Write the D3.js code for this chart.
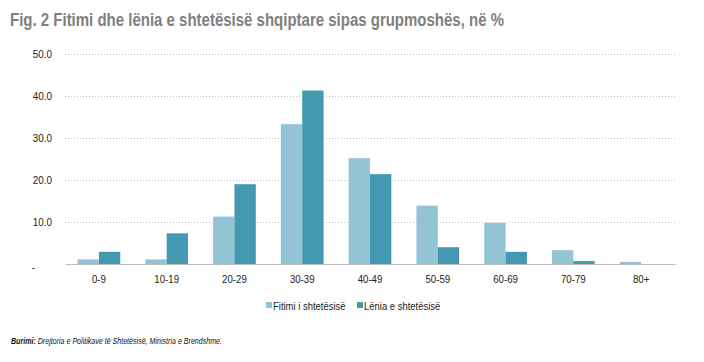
<!DOCTYPE html>
<html>
  <head>
    <meta charset="utf-8">
    <script src="https://cdn.jsdelivr.net/npm/d3@7"></script>
    <style>
      body { margin: 0; background: #ffffff; }
      text { font-family: "Liberation Sans", Arial, sans-serif; }
    </style>
  </head>
  <body>
    <svg width="704" height="362" id="mainsvg"></svg>
    <script>
        // data
        const groups = ["0-9", "10-19", "20-29", "30-39", "40-49", "50-59", "60-69", "70-79", "80+"];
        const fitimi = [1.1, 1.1, 11.3, 33.3, 25.2, 13.9, 9.8, 3.3, 0.5];
        const lenia = [2.9, 7.3, 19.0, 41.3, 21.4, 4.0, 2.9, 0.7, 0.0];
        const seriesNames = ["Fitimi i shtetësisë", "Lënia e shtetësisë"];
        const yTicks = [0, 10, 20, 30, 40, 50];
        const colors = ["#93c4d5", "#4399b1"];

        const svg = d3.select('#mainsvg');
        const margin = {top: 54, right: 29, bottom: 98, left: 65};
        const innerWidth = 704 - margin.left - margin.right;
        const innerHeight = 362 - margin.top - margin.bottom;

        // the original uses a narrow font; squeeze the glyphs to fake it
        const narrow = function(sel, f){
            sel.each(function(){
                const len = this.getComputedTextLength();
                d3.select(this).attr('textLength', len * f).attr('lengthAdjust', 'spacingAndGlyphs');
            });
        };

        const xScale = d3.scaleBand()
        .domain(groups)
        .range([0, innerWidth])
        .paddingInner(0.37)
        .paddingOuter(0.185);

        const x1 = d3.scaleBand()
        .domain([0, 1])
        .range([0, xScale.bandwidth()]);

        const yScale = d3.scaleLinear()
        .domain([0, 50])
        .range([innerHeight, 0]);

        // title
        svg.append('text')
        .attr('x', 10)
        .attr('y', 26)
        .attr('fill', '#808080')
        .attr('font-size', 18)
        .attr('font-weight', 'bold')
        .text('Fig. 2 Fitimi dhe lënia e shtetësisë shqiptare sipas grupmoshës, në %')
        .attr('textLength', 494)
        .attr('lengthAdjust', 'spacingAndGlyphs');

        const g = svg.append('g')
        .attr('transform', `translate(${margin.left}, ${margin.top})`);

        // gridlines + y labels
        const yAxis = d3.axisLeft(yScale)
        .tickValues(yTicks)
        .tickSize(-innerWidth)
        .tickPadding(13)
        .tickFormat(d => d === 0 ? '-' : d3.format('.1f')(d));
        const yAxisGroup = g.append('g').call(yAxis)
        .attr('font-family', null).attr('font-size', null);
        yAxisGroup.select('.domain').remove();
        yAxisGroup.selectAll('.tick line')
        .attr('stroke', '#bfbfbf')
        .attr('stroke-dasharray', '1,2')
        .filter(d => d === 0).remove();
        yAxisGroup.selectAll('.tick text')
        .attr('fill', '#222')
        .attr('text-anchor', 'end')
        .attr('font-size', 11.5)
        .call(narrow, 0.86);
        yAxisGroup.selectAll('.tick text').filter(d => d === 0)
        .attr('x', -30).attr('dy', '0.6em');

        // bars
        const table = groups.map((grp, i) => ({grp: grp, vals: [fitimi[i], lenia[i]]}));
        g.selectAll('.grp')
        .data(table)
        .enter().append('g')
        .attr('transform', d => `translate(${xScale(d.grp)}, 0)`)
        .selectAll('rect')
        .data(d => d.vals.map((v, k) => ({k: k, v: v})))
        .enter().append('rect')
        .attr('x', d => x1(d.k))
        .attr('width', x1.bandwidth())
        .attr('y', d => yScale(d.v))
        .attr('height', d => innerHeight - yScale(d.v))
        .attr('fill', d => colors[d.k]);

        // x axis
        const xAxis = d3.axisBottom(xScale).tickSize(0).tickPadding(11);
        const xAxisGroup = g.append('g')
        .attr('transform', `translate(0, ${innerHeight})`)
        .call(xAxis)
        .attr('font-family', null).attr('font-size', null);
        xAxisGroup.select('.domain').attr('stroke', '#bfbfbf');
        xAxisGroup.selectAll('.tick text')
        .attr('fill', '#222')
        .attr('text-anchor', 'middle')
        .attr('font-size', 11.5)
        .call(narrow, 0.84);

        // legend
        const legendX = [266, 357];
        const legend = svg.append('g');
        seriesNames.forEach((name, k) => {
            legend.append('rect')
            .attr('x', legendX[k]).attr('y', 302)
            .attr('width', 6).attr('height', 6)
            .attr('fill', colors[k]);
            legend.append('text')
            .attr('x', legendX[k] + 7).attr('y', 310)
            .attr('font-size', 11)
            .attr('fill', '#222')
            .text(name)
            .call(narrow, 0.86);
        });

        // source
        const src = svg.append('text')
        .attr('x', 11).attr('y', 344)
        .attr('font-size', 9)
        .attr('font-style', 'italic')
        .attr('fill', '#111');
        src.append('tspan').attr('font-weight', 'bold').text('Burimi:');
        src.append('tspan').text(' Drejtoria e Politikave të Shtetësisë, Ministria e Brendshme.');
        src.attr('textLength', 211).attr('lengthAdjust', 'spacingAndGlyphs');
    </script>
  </body>
</html>
